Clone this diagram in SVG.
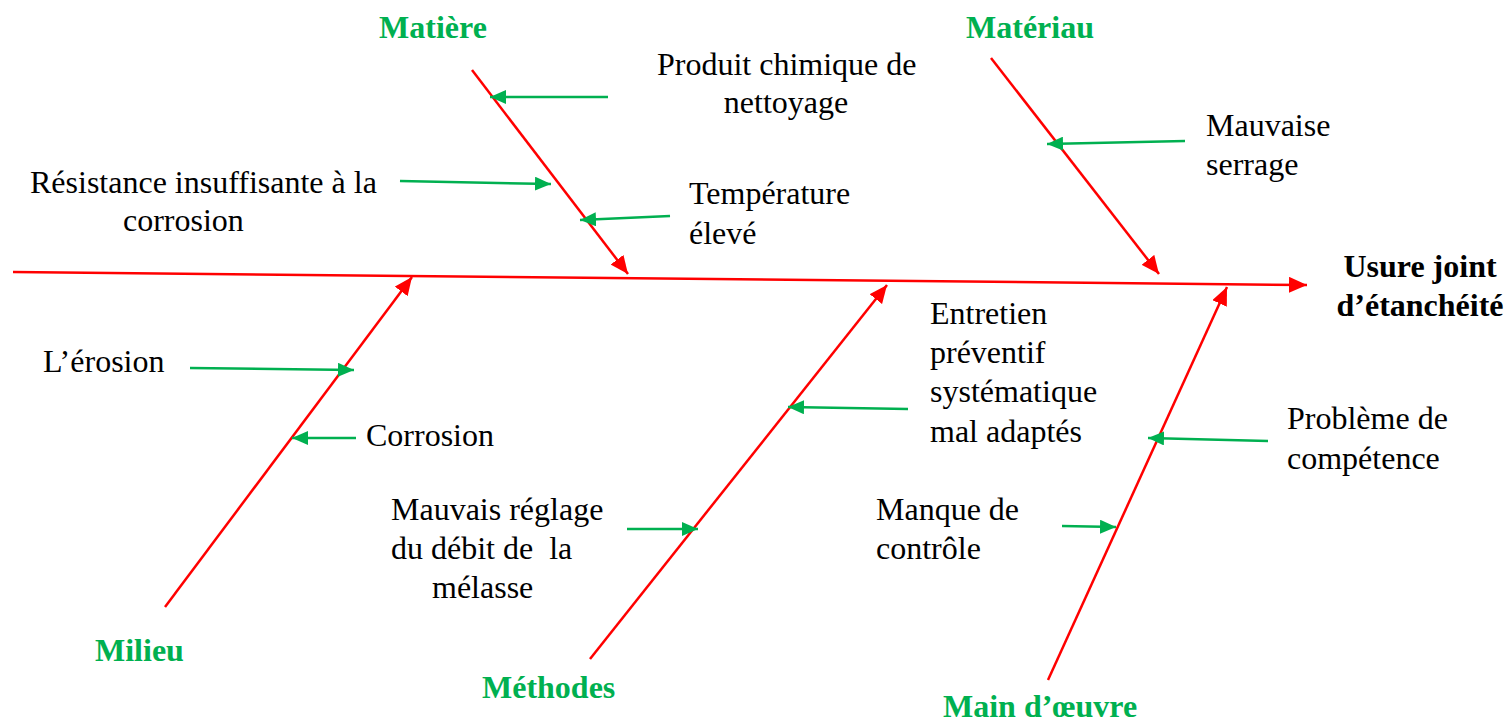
<svg xmlns="http://www.w3.org/2000/svg" width="1507" height="722" viewBox="0 0 1507 722">
<style>
.r{stroke:#FF0000;stroke-width:2.5;fill:none;marker-end:url(#ra)}
.g{stroke:#00B050;stroke-width:2.5;fill:none;marker-end:url(#ga)}
</style>
<defs>
<marker id="ra" markerUnits="userSpaceOnUse" markerWidth="20" markerHeight="16" refX="18" refY="8" orient="auto"><path d="M0,0 L18,8 L0,16 Z" fill="#FF0000"/></marker>
<marker id="ga" markerUnits="userSpaceOnUse" markerWidth="18" markerHeight="14" refX="16" refY="7" orient="auto"><path d="M0,0 L16,7 L0,14 Z" fill="#00B050"/></marker>
</defs>
<rect width="1507" height="722" fill="#fff"/>
<g id="connectors">
<line class="r" x1="13" y1="272" x2="1307" y2="285"/>
<line class="r" x1="472" y1="70" x2="628" y2="274"/>
<line class="r" x1="991" y1="58" x2="1159" y2="274"/>
<line class="r" x1="165" y1="607" x2="412" y2="277"/>
<line class="r" x1="590" y1="659" x2="887" y2="285"/>
<line class="r" x1="1048" y1="680" x2="1227" y2="287"/>
<line class="g" x1="608" y1="97" x2="490" y2="97"/>
<line class="g" x1="400" y1="181" x2="551" y2="184"/>
<line class="g" x1="670" y1="216" x2="580" y2="220"/>
<line class="g" x1="1185" y1="141" x2="1047" y2="144"/>
<line class="g" x1="190" y1="368" x2="354" y2="370"/>
<line class="g" x1="356" y1="438" x2="292" y2="438"/>
<line class="g" x1="908" y1="409" x2="788" y2="407"/>
<line class="g" x1="627" y1="529" x2="698" y2="529"/>
<line class="g" x1="1062" y1="526" x2="1116" y2="527"/>
<line class="g" x1="1268" y1="441" x2="1148" y2="438"/>
</g>
<g font-family="Liberation Serif, Times New Roman, serif" font-size="32">
<g id="effect" font-weight="bold" fill="#000"><text x="1420" y="277" text-anchor="middle">Usure joint</text><text x="1420" y="316" text-anchor="middle">d’étanchéité</text></g>
<g font-weight="bold" fill="#00B050">
<g id="matiere"><text x="433" y="38" text-anchor="middle">Matière</text></g>
<g id="materiau"><text x="1030" y="38" text-anchor="middle">Matériau</text></g>
<g id="milieu"><text x="95" y="661">Milieu</text></g>
<g id="methodes"><text x="482" y="698">Méthodes</text></g>
<g id="maindoeuvre"><text x="943" y="717">Main d’œuvre</text></g>
</g>
<g fill="#000">
<g id="c1"><text x="657" y="75">Produit chimique de</text><text x="786" y="113" text-anchor="middle">nettoyage</text></g>
<g id="c2"><text x="30" y="193">Résistance insuffisante à la</text><text x="123" y="231">corrosion</text></g>
<g id="c3"><text x="689" y="204">Température</text><text x="689" y="244">élevé</text></g>
<g id="c4"><text x="1206" y="136">Mauvaise</text><text x="1206" y="175">serrage</text></g>
<g id="c5"><text x="43" y="372">L’érosion</text></g>
<g id="c6"><text x="366" y="446">Corrosion</text></g>
<g id="c7"><text x="930" y="324">Entretien</text><text x="930" y="363">préventif</text><text x="930" y="402">systématique</text><text x="930" y="442">mal adaptés</text></g>
<g id="c8"><text x="1287" y="429">Problème de</text><text x="1287" y="469">compétence</text></g>
<g id="c9"><text x="391" y="520">Mauvais réglage</text><text x="391" y="559" xml:space="preserve">du débit de  la</text><text x="432" y="598">mélasse</text></g>
<g id="c10"><text x="876" y="520">Manque de</text><text x="876" y="559">contrôle</text></g>
</g>
</g>
</svg>
